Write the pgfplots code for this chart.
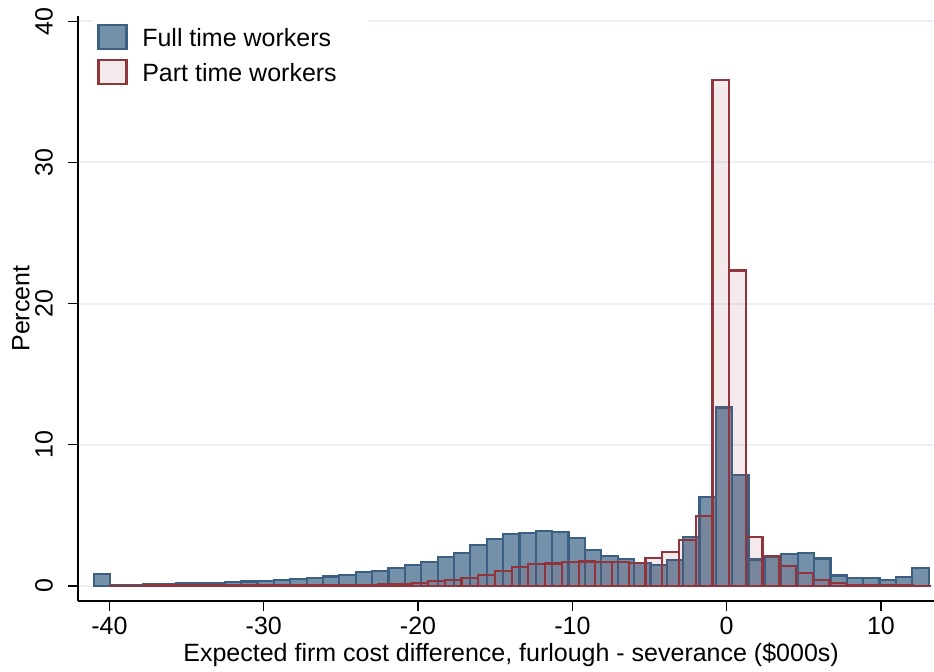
\documentclass[border=0pt]{standalone}
\usepackage{pgfplots}
\pgfplotsset{compat=1.18}
\usepackage{fontspec}
\setmainfont{Liberation Sans}
\definecolor{ftfill}{RGB}{117,144,169}
\definecolor{ftline}{RGB}{60,96,132}
\definecolor{ptline}{RGB}{144,53,59}
\definecolor{gridc}{RGB}{234,240,243}
\newcommand{\lbl}{\fontsize{12.5}{14}\selectfont}
\pgfplotsset{/pgfplots/mybox/.style={legend image code/.code={\draw[##1] (0pt,-4.85pt) rectangle (14pt,7.15pt);}}}
\begin{document}
\begin{tikzpicture}
\useasboundingbox (-39pt,-35pt) rectangle (428pt,300.5pt);
\begin{axis}[
  at={(0,0)}, anchor=south west,
  scale only axis, width=428pt, height=292.5pt,
  xmin=-42.04, xmax=13.44, ymin=-1.06, ymax=40.37,
  axis x line*=bottom, axis y line*=left,
  axis line style={line width=0.65pt, black, -},
  xtick={-40,-30,-20,-10,0,10},
  xticklabels={-40,-30,-20,-10,0,10},
  ytick={0,10,20,30,40},
  yticklabels={0,10,20,30,40},
  tick align=outside, major tick length=5pt,
  tick style={line width=0.65pt, black},
  ymajorgrids, grid style={line width=1pt, gridc},
  ticklabel style={font=\lbl},
  xticklabel style={yshift=0.5pt},
  yticklabel style={xshift=-4pt, rotate=90, anchor=south},
  every axis x label/.style={at={(axis description cs:0.506,-0.0923)}, anchor=center, font=\lbl},
  every axis y label/.style={at={(axis description cs:-0.0666,0.5)}, rotate=90, anchor=center, font=\lbl},
  xlabel={Expected firm cost difference, furlough - severance (\$000s)},
  ylabel={Percent},
  legend cell align=left,
  legend style={at={(axis description cs:0.0175,0.9937)}, anchor=north west,
    draw=none, fill=white, inner xsep=2pt, inner ysep=2pt, row sep=2pt,
    font=\lbl,
    nodes={inner sep=2pt, text height=9pt, text depth=2.5pt},
    /tikz/every odd column/.append style={column sep=5.35pt}},
]
\addplot[ybar interval, fill=ftfill, draw=ftline, line width=1.1pt, mybox]
coordinates {(-41.01,0.85) (-39.95,0.04) (-38.89,0.06) (-37.83,0.15) (-36.77,0.17) (-35.71,0.19) (-34.65,0.22) (-33.58,0.24) (-32.52,0.27) (-31.46,0.32) (-30.40,0.37) (-29.34,0.40) (-28.28,0.50) (-27.22,0.58) (-26.16,0.68) (-25.10,0.80) (-24.04,1.00) (-22.98,1.08) (-21.92,1.28) (-20.85,1.48) (-19.79,1.70) (-18.73,2.05) (-17.67,2.35) (-16.61,2.90) (-15.55,3.33) (-14.49,3.70) (-13.43,3.75) (-12.37,3.90) (-11.31,3.80) (-10.25,3.40) (-9.19,2.55) (-8.12,2.10) (-7.06,1.90) (-6.00,1.65) (-4.94,1.50) (-3.88,1.85) (-2.82,3.50) (-1.76,6.30) (-0.70,12.65) (0.36,7.85) (1.42,1.88) (2.48,2.08) (3.54,2.25) (4.60,2.33) (5.67,1.95) (6.73,0.75) (7.79,0.55) (8.85,0.55) (9.91,0.42) (10.97,0.62) (12.03,1.27) (13.09,0)};
\addlegendentry{Full time workers\hspace*{12pt}}
\addplot[ybar interval, fill=ptline, fill opacity=0.1, draw=ptline, line width=1.1pt, mybox]
coordinates {(-39.95,0.03) (-38.87,0.03) (-37.78,0.04) (-36.70,0.04) (-35.61,0.05) (-34.53,0.05) (-33.44,0.05) (-32.36,0.06) (-31.28,0.06) (-30.19,0.07) (-29.11,0.07) (-28.02,0.08) (-26.94,0.08) (-25.86,0.09) (-24.77,0.10) (-23.69,0.10) (-22.60,0.12) (-21.52,0.17) (-20.43,0.24) (-19.35,0.33) (-18.27,0.43) (-17.18,0.58) (-16.10,0.78) (-15.01,1.06) (-13.93,1.35) (-12.85,1.57) (-11.76,1.60) (-10.68,1.72) (-9.59,1.74) (-8.51,1.68) (-7.42,1.70) (-6.34,1.65) (-5.26,1.98) (-4.17,2.40) (-3.09,3.25) (-2.00,4.97) (-0.92,35.85) (0.17,22.35) (1.25,3.50) (2.33,2.15) (3.42,1.40) (4.50,0.92) (5.59,0.45) (6.67,0.22) (7.75,0.10) (8.84,0.06) (9.92,0.04) (11.01,0.04) (12.09,0.03) (13.18,0)};
\addlegendentry{Part time workers\hspace*{12pt}}
\end{axis}
\end{tikzpicture}
\end{document}
